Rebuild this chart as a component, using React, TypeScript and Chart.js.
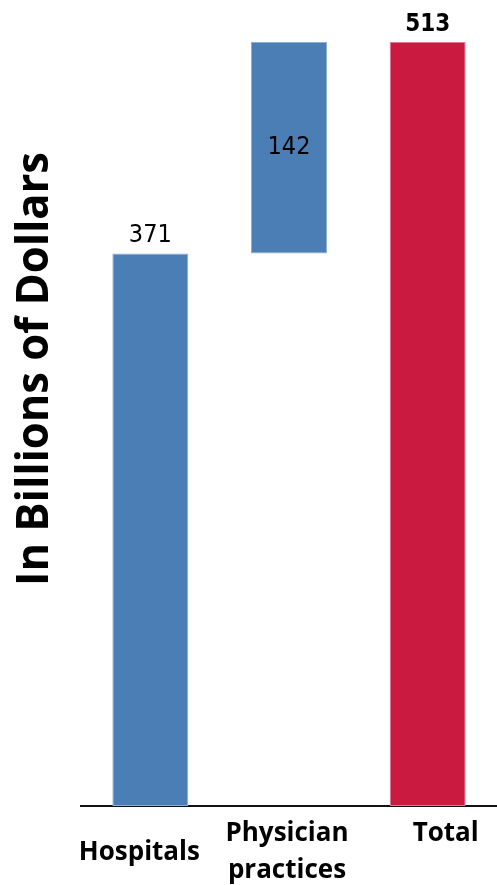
import React, { useEffect, useRef } from "react";
import { Chart, registerables } from "chart.js";

Chart.register(...registerables);

const categories: (string | string[])[] = ["Hospitals", ["Physician", "practices"], "Total"];
const amounts: number[] = [371, 142, 513];
const isTotal: boolean[] = [false, false, true];
const labelPlacement: string[] = ["above", "inside", "above"];
const yTitle = "In Billions of Dollars";

// style: category label nudges (px) relative to bar centre / axis line
const catShiftX: number[] = [-11, -2, 18];
const catBaselineY: number[] = [54, 35, 35];
const CAT_LINE_GAP = 37;

const BLUE = "#4A7EB4";
const RED = "#CB1A3F";

// floating bars built from the amounts (waterfall)
function buildRanges(): [number, number][] {
  let running = 0;
  return amounts.map((v, i) => {
    if (isTotal[i]) return [0, v] as [number, number];
    const r: [number, number] = [running, running + v];
    running += v;
    return r;
  });
}

const labelsPlugin = {
  id: "waterfallLabels",
  afterDatasetsDraw(chart: any) {
    const { ctx } = chart;
    const meta = chart.getDatasetMeta(0);
    ctx.save();
    ctx.fillStyle = "#000";
    ctx.textAlign = "center";
    meta.data.forEach((bar: any, i: number) => {
      const props = bar.getProps(["x", "y", "base"], true);
      const top = Math.min(props.y, props.base);
      const bottom = Math.max(props.y, props.base);
      if (isTotal[i]) {
        ctx.font = "bold 24px 'DejaVu Sans Condensed', 'DejaVu Sans', sans-serif";
      } else {
        ctx.font = "25px 'DejaVu Sans Condensed', 'DejaVu Sans', sans-serif";
      }
      const text = String(amounts[i]);
      if (labelPlacement[i] === "inside") {
        ctx.textBaseline = "middle";
        ctx.fillText(text, props.x, (top + bottom) / 2);
      } else {
        ctx.textBaseline = "alphabetic";
        ctx.fillText(text, props.x, top - 11);
      }
    });
    ctx.restore();
  },
};

const categoryLabelsPlugin = {
  id: "categoryLabels",
  afterDraw(chart: any) {
    const { ctx, chartArea } = chart;
    const xScale = chart.scales.x;
    ctx.save();
    ctx.fillStyle = "#000";
    ctx.font = "bold 26px 'Open Sans', sans-serif";
    ctx.textAlign = "center";
    ctx.textBaseline = "alphabetic";
    (chart.data.labels as (string | string[])[]).forEach((lab, i) => {
      const lines = Array.isArray(lab) ? lab : [lab];
      const x = xScale.getPixelForValue(i) + catShiftX[i];
      lines.forEach((line, j) => {
        ctx.fillText(line, x, chartArea.bottom + catBaselineY[i] + j * CAT_LINE_GAP);
      });
    });
    ctx.restore();
  },
};

const yTitlePlugin = {
  id: "yTitle",
  afterDraw(chart: any) {
    const { ctx } = chart;
    ctx.save();
    ctx.translate(48, 369);
    ctx.rotate(-Math.PI / 2);
    ctx.fillStyle = "#000";
    ctx.font = "bold 44px 'Open Sans', sans-serif";
    ctx.textAlign = "center";
    ctx.textBaseline = "alphabetic";
    ctx.fillText(yTitle, 0, 0, 434);
    ctx.restore();
  },
};

export default function App() {
  const canvasRef = useRef<HTMLCanvasElement | null>(null);

  useEffect(() => {
    if (!canvasRef.current) return;
    const ranges = buildRanges();
    const chart = new Chart(canvasRef.current, {
      type: "bar",
      data: {
        labels: categories as any,
        datasets: [
          {
            data: ranges as any,
            backgroundColor: isTotal.map((t) => (t ? RED : BLUE)),
            borderColor: isTotal.map((t) => (t ? "#E07890" : "#8DB0D6")),
            borderWidth: 1,
            borderSkipped: false,
            barPercentage: 0.548,
            categoryPercentage: 1,
          },
        ],
      },
      options: {
        responsive: false,
        animation: false,
        layout: { padding: { top: 42, left: 81, right: 0, bottom: 0 } },
        plugins: {
          legend: { display: false },
          tooltip: { enabled: false },
        },
        scales: {
          x: {
            afterFit: (scale: any) => {
              scale.height = 79;
            },
            grid: { display: true, drawOnChartArea: false, drawTicks: false, color: "transparent" },
            border: { display: true, color: "#111", width: 2 },
            ticks: { display: false },
          },
          y: {
            display: false,
            min: 0,
            max: 513,
          },
        },
      },
      plugins: [labelsPlugin, categoryLabelsPlugin, yTitlePlugin],
    });
    return () => chart.destroy();
  }, []);

  return (
    <div style={{ position: "absolute", left: 0, top: 0, width: 497, height: 885, background: "#fff" }}>
      <canvas ref={canvasRef} width={497} height={885} style={{ display: "block" }} />
    </div>
  );
}
